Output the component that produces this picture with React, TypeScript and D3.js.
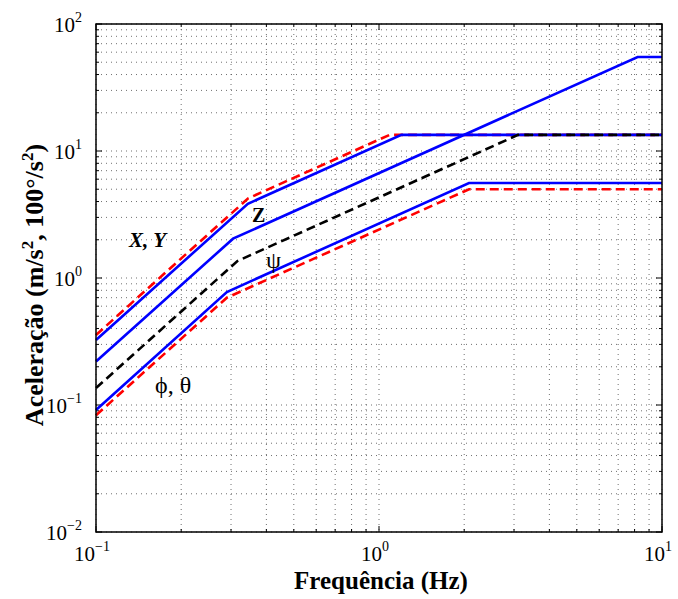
import React from "react";
import * as d3 from "d3";

const xyBlueF = [0.1, 0.344, 1.2, 10];
const xyBlueA = [0.325, 3.84, 13.4, 13.4];
const xyRedF = [0.1, 0.345, 1.09, 10];
const xyRedA = [0.356, 4.24, 13.4, 13.4];
const zBlueF = [0.1, 0.305, 8.2, 10];
const zBlueA = [0.22, 2.04, 55, 55];
const psiF = [0.1, 0.316, 3.1, 10];
const psiA = [0.136, 1.36, 13.4, 13.4];
const ptBlueF = [0.1, 0.29, 2.08, 10];
const ptBlueA = [0.0914, 0.776, 5.6, 5.6];
const ptRedF = [0.1, 0.29, 2.08, 10];
const ptRedA = [0.083, 0.7, 5.0, 5.0];

const xMajor = [-1, 0, 1];
const yMajor = [-2, -1, 0, 1, 2];

const W = 678, H = 599;
const L = 96, R = 662, T = 24, B = 532;

export default function App() {
  const x = d3.scaleLog().domain([0.1, 10]).range([L, R]);
  const y = d3.scaleLog().domain([0.01, 100]).range([B, T]);
  const line = (fs: number[], as: number[]) =>
    d3.line<number>().x((_, i) => x(fs[i])).y((_, i) => y(as[i]))(fs) || "";

  const xMinor: number[] = [];
  for (let e = -1; e < 1; e++) for (let k = 2; k <= 9; k++) xMinor.push(k * Math.pow(10, e));
  const yMinor: number[] = [];
  for (let e = -2; e < 2; e++) for (let k = 2; k <= 9; k++) yMinor.push(k * Math.pow(10, e));
  const xAll = [...xMajor.map((e) => Math.pow(10, e)), ...xMinor];
  const yAll = [...yMajor.map((e) => Math.pow(10, e)), ...yMinor];

  const font = "Liberation Serif, Times New Roman, serif";
  const series = [
    { f: xyRedF, a: xyRedA, c: "#ff0000", d: "9,5" },
    { f: xyBlueF, a: xyBlueA, c: "#0000ff", d: "" },
    { f: zBlueF, a: zBlueA, c: "#0000ff", d: "" },
    { f: psiF, a: psiA, c: "#000000", d: "9,5" },
    { f: ptRedF, a: ptRedA, c: "#ff0000", d: "9,5" },
    { f: ptBlueF, a: ptBlueA, c: "#0000ff", d: "" },
  ];

  return (
    <svg width={W} height={H} style={{ position: "absolute", left: 0, top: 0, fontFamily: font }}>
      <rect width={W} height={H} fill="#fff" />
      <g stroke="#000" strokeWidth={0.8} strokeDasharray="1,4" opacity={0.7}>
        {xAll.map((v, i) => (
          <line key={"gx" + i} x1={x(v)} x2={x(v)} y1={T} y2={B} />
        ))}
        {yAll.map((v, i) => (
          <line key={"gy" + i} x1={L} x2={R} y1={y(v)} y2={y(v)} />
        ))}
      </g>
      <g stroke="#000" strokeWidth={1}>
        {xAll.map((v, i) => {
          const len = xMinor.includes(v) ? 3 : 6;
          return (
            <g key={"tx" + i}>
              <line x1={x(v)} x2={x(v)} y1={B} y2={B - len} />
              <line x1={x(v)} x2={x(v)} y1={T} y2={T + len} />
            </g>
          );
        })}
        {yAll.map((v, i) => {
          const len = yMinor.includes(v) ? 3 : 6;
          return (
            <g key={"ty" + i}>
              <line x1={L} x2={L + len} y1={y(v)} y2={y(v)} />
              <line x1={R} x2={R - len} y1={y(v)} y2={y(v)} />
            </g>
          );
        })}
      </g>
      <g fill="none" strokeWidth={2.6}>
        {series.map((s, i) => (
          <path key={i} d={line(s.f, s.a)} stroke={s.c} strokeDasharray={s.d || undefined} />
        ))}
      </g>
      <rect x={L} y={T} width={R - L} height={B - T} fill="none" stroke="#000" strokeWidth={1.5} />
      {yMajor.map((e) => (
        <text key={"yl" + e} x={L - 14} y={y(Math.pow(10, e)) + 8} textAnchor="end" fontSize={21}>
          10
          <tspan dy={-10} fontSize={14}>{e < 0 ? "\u2212" + -e : String(e)}</tspan>
        </text>
      ))}
      {xMajor.map((e) => (
        <text key={"xl" + e} x={x(Math.pow(10, e)) - 4} y={B + 29} textAnchor="middle" fontSize={21}>
          10
          <tspan dy={-10} fontSize={14}>{e < 0 ? "\u2212" + -e : String(e)}</tspan>
        </text>
      ))}
      <text x={381} y={589} textAnchor="middle" fontSize={25} fontWeight="bold">
        Frequência (Hz)
      </text>
      <text transform={`translate(43,285) rotate(-90)`} textAnchor="middle" fontSize={26} fontWeight="bold">
        Aceleração (m/s<tspan dy={-10} fontSize={17}>2</tspan>
        <tspan dy={10}>, 100°/s</tspan>
        <tspan dy={-10} fontSize={17}>2</tspan>
        <tspan dy={10}>)</tspan>
      </text>
      <text x={129} y={247} fontSize={21} fontWeight="bold" fontStyle="italic">X, Y</text>
      <text x={252} y={222} fontSize={20} fontWeight="bold">Z</text>
      <text x={266} y={268} fontSize={24}>ψ</text>
      <text x={155} y={393} fontSize={24}>ϕ, θ</text>
    </svg>
  );
}
